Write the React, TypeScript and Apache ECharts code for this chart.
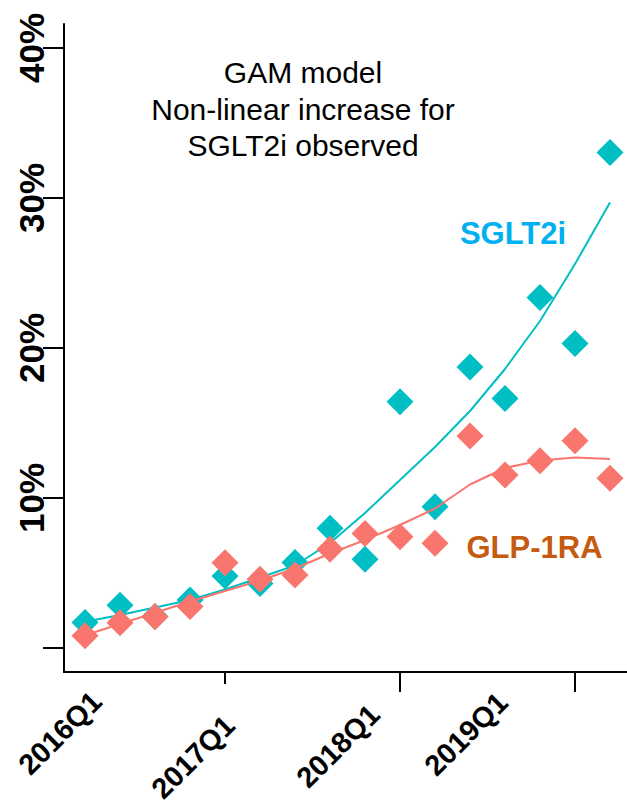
import React, { useEffect, useRef } from "react";
import * as echarts from "echarts";

// Quarter index (0 = 2016Q1 … 15 = 2019Q4)
const quarterIndex = [0, 1, 2, 3, 4, 5, 6, 7, 8, 9, 10, 11, 12, 13, 14, 15];
// Observed percentages
const sglt2iObserved = [1.7, 2.85, 2.1, 3.2, 4.8, 4.3, 5.7, 7.98, 5.91, 16.42, 9.42, 18.74, 16.64, 23.37, 20.3, 33.03];
const glp1raObserved = [0.82, 1.69, 2.09, 2.76, 5.69, 4.58, 4.87, 6.58, 7.64, 7.42, 6.98, 14.13, 11.53, 12.49, 13.82, 11.31];
// GAM fitted values
const sglt2iFit = [1.75, 2.2, 2.7, 3.2, 3.9, 4.7, 5.5, 7.0, 9.0, 11.2, 13.4, 15.8, 18.6, 21.8, 25.6, 29.7];
const glp1raFit = [0.85, 1.6, 2.35, 3.1, 3.8, 4.5, 5.3, 6.3, 7.2, 8.2, 9.3, 10.9, 12.0, 12.5, 12.7, 12.6];
// Axis ticks and labels
const yTickValues = [0, 10, 20, 30, 40];
const yLabelValues = [10, 20, 30, 40];
const xLongTicks = [9, 14];
const xShortTicks = [4];
const xLabels = ["2016Q1", "2017Q1", "2018Q1", "2019Q1"];
const annotationLines = ["GAM model", "Non-linear increase for", "SGLT2i observed"];
const seriesNames = ["SGLT2i", "GLP-1RA"];

const FONT = "'Liberation Sans', Arial, Helvetica, sans-serif";
const TEAL = "#00BFC4";
const SALMON = "#F8766D";

const xLabelPos = [
  [60, 733],
  [193, 757],
  [338, 746],
  [466, 734],
];
const annotationY = [72, 109, 145.5];

export default function App() {
  const ref = useRef<HTMLDivElement>(null);
  useEffect(() => {
    if (!ref.current) return;
    const chart = echarts.init(ref.current, null, { renderer: "svg" });
    const pair = (vals: number[]) => quarterIndex.map((q, i) => [q, vals[i]]);
    const axisCommon = {
      min: -0.6,
      max: 15.6,
      type: "value" as const,
      position: "bottom" as const,
      splitLine: { show: false },
      axisLabel: { show: false },
    };
    chart.setOption({
      animation: false,
      backgroundColor: "#ffffff",
      grid: {
        left: 64,
        top: 24,
        width: 567,
        height: 648,
        containLabel: false,
        outerBoundsMode: "none",
      },
      xAxis: [
        {
          ...axisCommon,
          axisLine: { show: true, onZero: false, lineStyle: { color: "#000", width: 2 } },
          axisTick: { show: true, customValues: xLongTicks, length: 20, inside: false, lineStyle: { color: "#000", width: 2 } },
        },
        {
          ...axisCommon,
          axisLine: { show: false, onZero: false },
          axisTick: { show: true, customValues: xShortTicks, length: 12, inside: false, lineStyle: { color: "#000", width: 2 } },
        },
      ],
      yAxis: {
        type: "value",
        min: -1.6,
        max: 41.6,
        splitLine: { show: false },
        axisLine: { show: true, onZero: false, lineStyle: { color: "#000", width: 2 } },
        axisTick: { show: true, customValues: yTickValues, length: 21, lineStyle: { color: "#000", width: 2 } },
        axisLabel: {
          customValues: yLabelValues,
          formatter: "{value}%",
          rotate: 90,
          margin: 15,
          fontSize: 35,
          fontWeight: "bold",
          fontFamily: FONT,
          color: "#000",
        },
      },
      series: [
        {
          name: seriesNames[0],
          type: "scatter",
          symbol: "diamond",
          symbolSize: 27,
          itemStyle: { color: TEAL, opacity: 1 },
          data: pair(sglt2iObserved),
          z: 2,
        },
        {
          name: seriesNames[0] + " fit",
          type: "line",
          showSymbol: false,
          symbol: "none",
          lineStyle: { color: TEAL, width: 2 },
          data: pair(sglt2iFit),
          z: 3,
        },
        {
          name: seriesNames[1],
          type: "scatter",
          symbol: "diamond",
          symbolSize: 27,
          itemStyle: { color: SALMON, opacity: 1 },
          data: pair(glp1raObserved),
          z: 4,
        },
        {
          name: seriesNames[1] + " fit",
          type: "line",
          showSymbol: false,
          symbol: "none",
          lineStyle: { color: SALMON, width: 2 },
          data: pair(glp1raFit),
          z: 5,
        },
      ],
      graphic: [
        ...annotationLines.map((t, i) => ({
          type: "text",
          x: 303,
          y: annotationY[i],
          style: {
            text: t,
            fontSize: 30,
            fontFamily: FONT,
            fill: "#000",
            align: "center",
            verticalAlign: "middle",
          },
        })),
        {
          type: "text",
          x: 513,
          y: 233.5,
          style: {
            text: seriesNames[0],
            fontSize: 31,
            fontWeight: "bold",
            fontFamily: FONT,
            fill: "#00B0F0",
            align: "center",
            verticalAlign: "middle",
          },
        },
        {
          type: "text",
          x: 534.5,
          y: 547.5,
          style: {
            text: seriesNames[1],
            fontSize: 31,
            fontWeight: "bold",
            fontFamily: FONT,
            fill: "#C55A11",
            align: "center",
            verticalAlign: "middle",
          },
        },
        ...xLabels.map((t, i) => ({
          type: "text",
          x: xLabelPos[i][0],
          y: xLabelPos[i][1],
          rotation: Math.PI / 4,
          style: {
            text: t,
            fontSize: 29,
            fontWeight: "bold",
            fontFamily: FONT,
            fill: "#000",
            align: "center",
            verticalAlign: "middle",
          },
        })),
      ],
    });
    return () => chart.dispose();
  }, []);
  return (
    <div
      ref={ref}
      style={{ position: "fixed", left: 0, top: 0, width: 627, height: 809, background: "#fff" }}
    />
  );
}
